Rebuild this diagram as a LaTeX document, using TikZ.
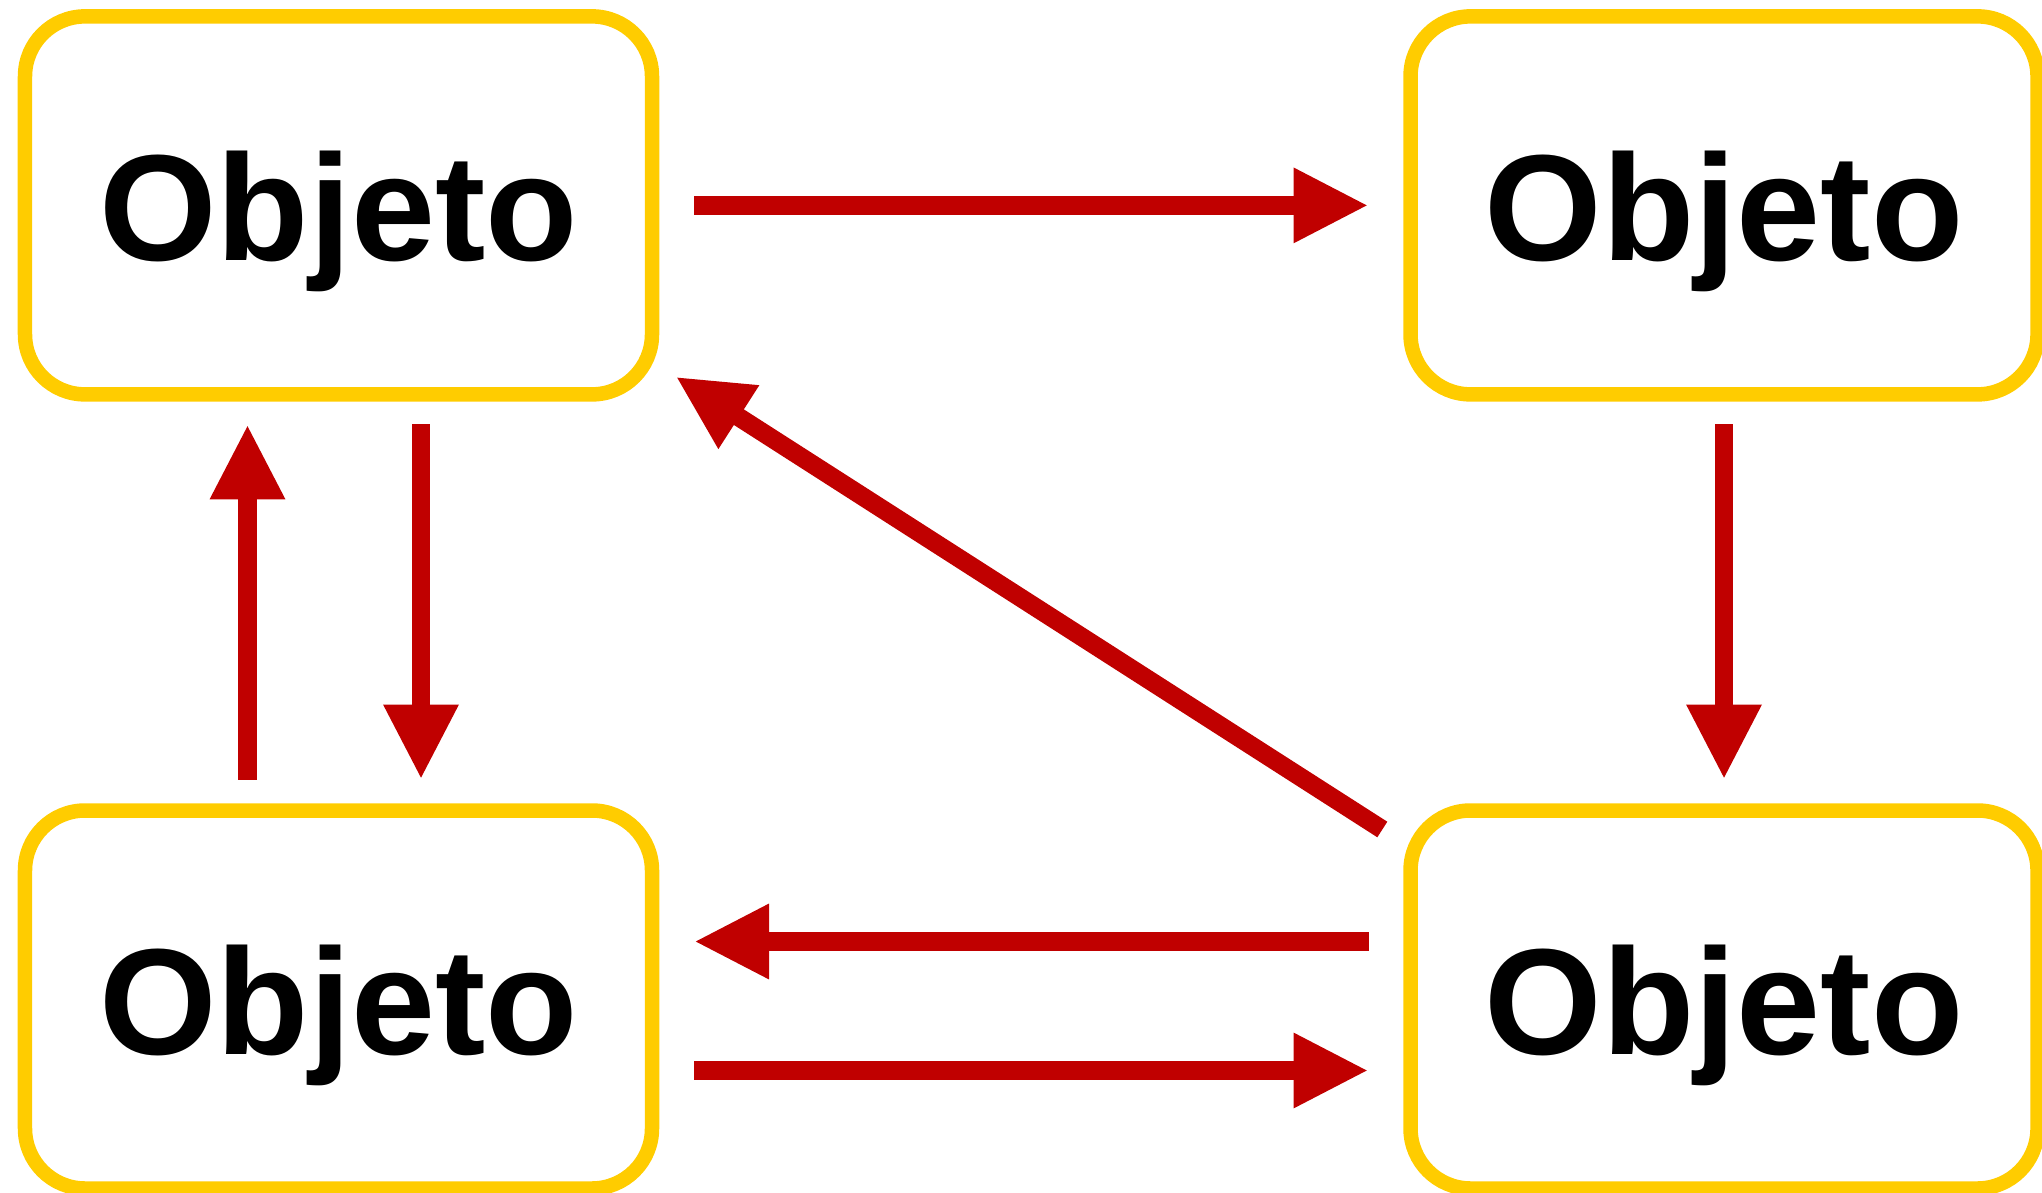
\documentclass[tikz,border=0pt]{standalone}
\usepackage{fontspec}
\setmainfont{Liberation Sans}
\usepackage{tikz}
\usetikzlibrary{arrows.meta, positioning, calc}
\definecolor{boxgold}{RGB}{255, 204, 0}
\definecolor{arrowred}{RGB}{192, 0, 0}

\begin{document}
\begin{tikzpicture}[
    objbox/.style={draw=boxgold, fill=white, line width=0.145cm, rounded corners=0.6cm,
        minimum width=6.27cm, minimum height=3.78cm, inner sep=0pt, outer sep=0pt,
        text depth=0pt, font=\fontsize{43}{43}\selectfont\bfseries},
    redarrow/.style={draw=arrowred, line width=0.185cm,
        -{Triangle[length=0.75cm, width=0.70cm]}}
]

\useasboundingbox (0,0) rectangle (20.42,11.92);

% Object boxes
\node[objbox] (tl) at (3.385,9.866) {Objeto};
\node[objbox] (tr) at (17.24,9.866) {Objeto};
\node[objbox] (bl) at (3.385,1.925) {Objeto};
\node[objbox] (br) at (17.24,1.925) {Objeto};

% Top row
\draw[redarrow, shorten <=0.42cm, shorten >=0.42cm] (tl.east) -- (tr.west);

% Left column, up and down
\draw[redarrow, shorten <=0.31cm, shorten >=0.30cm]
    ([xshift=-0.91cm]bl.north) -- ([xshift=-0.91cm]tl.south);
\draw[redarrow, shorten <=0.30cm, shorten >=0.31cm]
    ([xshift=0.825cm]tl.south) -- ([xshift=0.825cm]bl.north);

% Right column
\draw[redarrow, shorten <=0.30cm, shorten >=0.31cm] (tr.south) -- (br.north);

% Bottom row, both ways
\draw[redarrow, shorten <=0.42cm, shorten >=0.42cm]
    ([yshift=0.58cm]br.west) -- ([yshift=0.58cm]bl.east);
\draw[redarrow, shorten <=0.42cm, shorten >=0.42cm]
    ([yshift=-0.71cm]bl.east) -- ([yshift=-0.71cm]br.west);

% Diagonal back to the first object
\draw[redarrow] ([shift={(-0.282,-0.19)}]br.north west)
    -- ([shift={(0.237,0.177)}]tl.south east);

\end{tikzpicture}
\end{document}
